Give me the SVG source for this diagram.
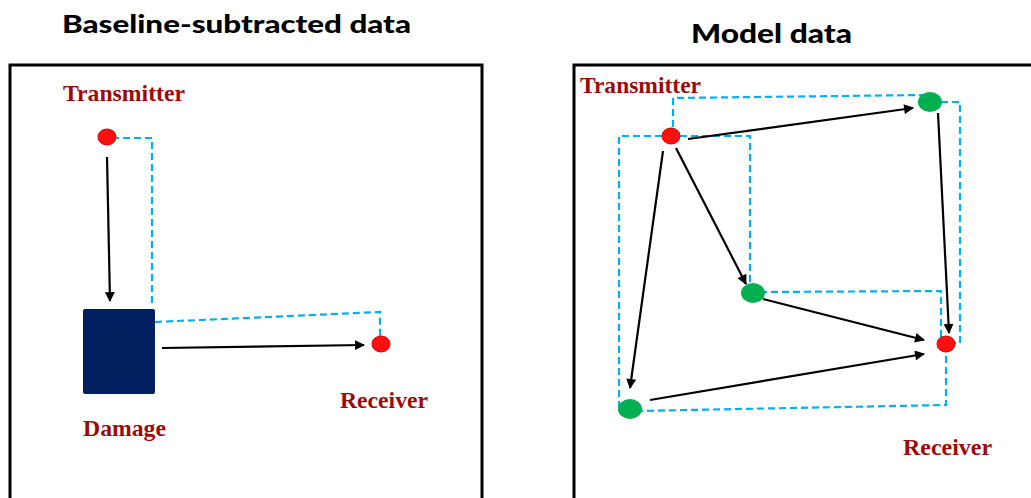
<svg xmlns="http://www.w3.org/2000/svg" width="1031" height="498" viewBox="0 0 1031 498">
<style>
.title{font-family:Lato,"Open Sans",sans-serif;font-weight:900;fill:#000}
.lbl{font-family:"Liberation Serif","Times New Roman",serif;font-weight:bold;font-size:24px;fill:#9E0A0A}
.panel{fill:none;stroke:#000;stroke-width:3}
.dash{fill:none;stroke:#00B0F0;stroke-width:2.2;stroke-dasharray:7,4}
.arr{fill:none;stroke:#000;stroke-width:2.2;marker-end:url(#ah)}
.red{fill:#FF1010;stroke:#E00000;stroke-width:1}
.green{fill:#00B050}
</style>
<defs>
<marker id="ah" viewBox="0 0 10 10" refX="9" refY="5" markerWidth="5.5" markerHeight="4.5" markerUnits="strokeWidth" orient="auto">
<path d="M0,0 L10,5 L0,10 z" fill="#000"/>
</marker>
</defs>
<g id="titles">
<text class="title" x="62" y="33" font-size="25" textLength="349" lengthAdjust="spacingAndGlyphs">Baseline-subtracted data</text>
<text class="title" x="691" y="43" font-size="27" textLength="161" lengthAdjust="spacingAndGlyphs">Model data</text>
</g>
<g id="panels">
<rect class="panel" x="10" y="65" width="472" height="450"/>
<rect class="panel" x="574" y="65" width="470" height="450"/>
</g>
<g id="connectors">
<polyline class="dash" points="112,138 152,138 152,304"/>
<polyline class="dash" points="155,322 380,312 380,337"/>
<line class="arr" x1="107" y1="157" x2="110" y2="301"/>
<line class="arr" x1="162" y1="348" x2="364" y2="345"/>
<polyline class="dash" points="673,127 673,98 925,95"/>
<polyline class="dash" points="930,102 960,102 960,343 953,343"/>
<polyline class="dash" points="662,136 619,136 619,407 628,410"/>
<polyline class="dash" points="680,136 750,136 750,284"/>
<polyline class="dash" points="760,292 941,291 941,337"/>
<polyline class="dash" points="636,411 946,405 946,353"/>
<line class="arr" x1="688" y1="139" x2="913" y2="108"/>
<line class="arr" x1="938" y1="113" x2="949" y2="333"/>
<line class="arr" x1="676" y1="148" x2="746" y2="284"/>
<line class="arr" x1="763" y1="299" x2="924" y2="340"/>
<line class="arr" x1="663" y1="151" x2="630" y2="388"/>
<line class="arr" x1="650" y1="400" x2="924" y2="354"/>
</g>
<g id="left-transmitter">
<ellipse class="red" cx="107" cy="137" rx="9" ry="8"/>
<text class="lbl" x="63" y="101" textLength="122" lengthAdjust="spacingAndGlyphs">Transmitter</text>
</g>
<g id="damage">
<rect x="83" y="309" width="72" height="85" rx="2" fill="#002060"/>
<text class="lbl" x="83" y="436" textLength="83" lengthAdjust="spacingAndGlyphs">Damage</text>
</g>
<g id="left-receiver">
<ellipse class="red" cx="381" cy="344" rx="9" ry="8"/>
<text class="lbl" x="340" y="408" textLength="88" lengthAdjust="spacingAndGlyphs">Receiver</text>
</g>
<g id="right-transmitter">
<ellipse class="red" cx="671" cy="136" rx="9" ry="8"/>
<text class="lbl" x="580" y="93" textLength="121" lengthAdjust="spacingAndGlyphs">Transmitter</text>
</g>
<g id="node-top-right"><ellipse class="green" cx="930" cy="102" rx="12" ry="10"/></g>
<g id="node-middle"><ellipse class="green" cx="753" cy="293" rx="12" ry="10"/></g>
<g id="node-bottom-left"><ellipse class="green" cx="630" cy="409" rx="12" ry="10"/></g>
<g id="right-receiver">
<ellipse class="red" cx="946" cy="344" rx="9" ry="8"/>
<text class="lbl" x="903" y="455" textLength="89" lengthAdjust="spacingAndGlyphs">Receiver</text>
</g>
</svg>
